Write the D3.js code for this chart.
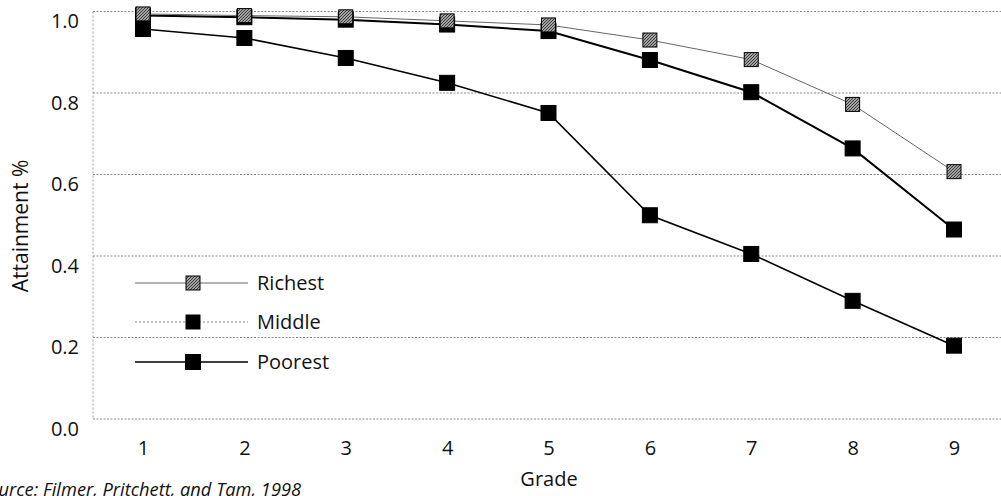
<!DOCTYPE html>
<html><head><meta charset="utf-8">
<script src="https://cdn.jsdelivr.net/npm/d3@7"></script>
<style>
html,body{margin:0;padding:0;background:#fff;}
svg{display:block;}
text{font-family:"Open Sans","DejaVu Sans",sans-serif;fill:#111;}
</style></head>
<body>
<svg id="chart" width="1001" height="496"></svg>
<script>
const grades = [1,2,3,4,5,6,7,8,9];
const richest = [0.994,0.99,0.987,0.977,0.967,0.93,0.882,0.772,0.607];
const middle  = [0.99,0.986,0.98,0.968,0.952,0.881,0.802,0.664,0.465];
const poorest = [0.957,0.935,0.886,0.825,0.751,0.50,0.405,0.29,0.18];
const yTicks = [0.0,0.2,0.4,0.6,0.8,1.0];
const seriesNames = ["Richest","Middle","Poorest"];

const FONT = "'Open Sans','DejaVu Sans',sans-serif";
const svg = d3.select("#chart");
const defs = svg.append("defs");
const pat = defs.append("pattern").attr("id","hatch").attr("width",3).attr("height",3)
  .attr("patternUnits","userSpaceOnUse");
pat.append("rect").attr("width",3).attr("height",3).attr("fill","#a0a0a0");
pat.append("path").attr("d","M0,3 L3,0").attr("stroke","#333").attr("stroke-width",0.9);

const x = d3.scaleLinear().domain([1,9]).range([143,954]);
const y = d3.scaleLinear().domain([0,1]).range([419,11.5]);

// grid
const grid = svg.append("g");
grid.selectAll("line.h").data(yTicks).join("line")
  .attr("x1",93).attr("x2",1001).attr("y1",d=>y(d)).attr("y2",d=>y(d))
  .attr("stroke","#888").attr("stroke-width",1).attr("stroke-dasharray","2,1.5");
grid.append("line").attr("x1",93).attr("x2",93).attr("y1",y(1)).attr("y2",y(0))
  .attr("stroke","#999").attr("stroke-width",1).attr("stroke-dasharray","2,2");

// y axis labels
const yAxis = d3.axisLeft(y).tickValues(yTicks).tickFormat(d3.format(".1f")).tickSize(0).tickPadding(14);
const ya = svg.append("g").attr("transform","translate(93,0)").call(yAxis);
ya.select(".domain").remove();
ya.selectAll("text").attr("dy",null).attr("y",16).attr("font-size",20).attr("fill","#111").style("font-family",FONT);

// x axis labels
const xAxis = d3.axisBottom(x).tickValues(grades).tickFormat(d3.format("d")).tickSize(0);
const xa = svg.append("g").attr("transform","translate(0,419)").call(xAxis);
xa.select(".domain").remove();
xa.selectAll("text").attr("dy",null).attr("y",36).attr("font-size",20).attr("fill","#111").style("font-family",FONT);

svg.append("text").attr("x",549).attr("y",486).attr("text-anchor","middle").attr("font-size",20).text("Grade");
svg.append("text").attr("transform","translate(28,226) rotate(-90)").attr("text-anchor","middle")
  .attr("font-size",21).text("Attainment %");
svg.append("text").attr("x",-21).attr("y",496).attr("font-size",18.3).attr("font-style","italic")
  .text("Source: Filmer, Pritchett, and Tam, 1998");

const line = d3.line().x((d,i)=>x(grades[i])).y(d=>y(d));
const styles = {
  Richest:{data:richest, stroke:"#666", width:1, fill:"url(#hatch)", size:14},
  Middle:{data:middle, stroke:"#000", width:2, fill:"#000", size:15},
  Poorest:{data:poorest, stroke:"#000", width:1.6, fill:"#000", size:15}
};
["Poorest","Middle","Richest"].forEach(n=>{
  const s = styles[n];
  svg.append("path").datum(s.data).attr("d",line).attr("fill","none")
    .attr("stroke",s.stroke).attr("stroke-width",s.width);
});
["Poorest","Middle","Richest"].forEach(n=>{
  const s = styles[n];
  svg.append("g").selectAll("rect").data(s.data).join("rect")
    .attr("x",(d,i)=>x(grades[i])-s.size/2).attr("y",d=>y(d)-s.size/2)
    .attr("width",s.size).attr("height",s.size)
    .attr("fill",s.fill).attr("stroke","#000").attr("stroke-width",1);
});

// legend
const legY = {Richest:283, Middle:322, Poorest:362};
const lg = svg.append("g");
seriesNames.forEach(n=>{
  const s = styles[n];
  const yy = legY[n];
  lg.append("line").attr("x1",135).attr("x2",248).attr("y1",yy).attr("y2",yy)
    .attr("stroke", n==="Middle" ? "#888" : s.stroke)
    .attr("stroke-width", n==="Middle" ? 1 : s.width)
    .attr("stroke-dasharray", n==="Middle" ? "2,2" : null);
  const sz = n==="Poorest" ? 15 : 14;
  lg.append("rect").attr("x",193-sz/2).attr("y",yy-sz/2).attr("width",sz).attr("height",sz)
    .attr("fill",s.fill).attr("stroke","#000").attr("stroke-width",1);
  lg.append("text").attr("x",257).attr("y",yy+7).attr("font-size",20).text(n);
});
</script>
</body></html>
